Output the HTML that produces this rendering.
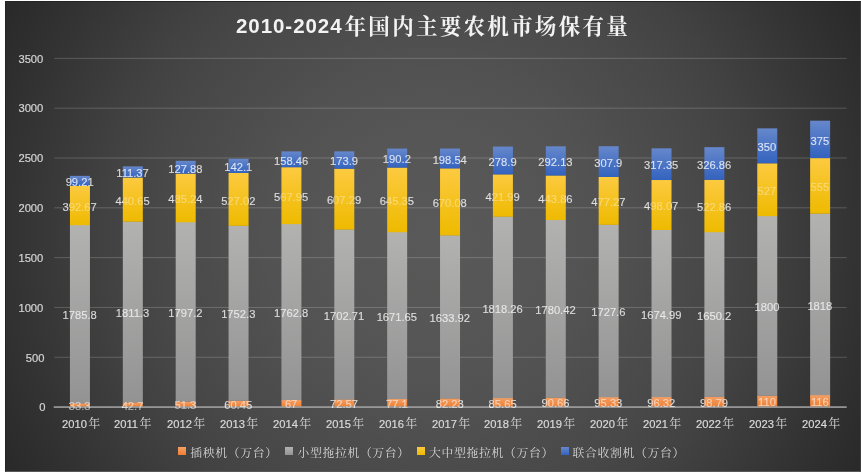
<!DOCTYPE html>
<html lang="zh"><head><meta charset="utf-8"><title>2010-2024年国内主要农机市场保有量</title>
<style>
html,body{margin:0;padding:0;background:#fff;}
body{width:861px;height:472px;overflow:hidden;position:relative;font-family:"Liberation Sans",sans-serif;}
#chart{will-change:transform;position:absolute;left:5px;top:1px;width:856px;height:471px;overflow:hidden;
 background:radial-gradient(circle 480px at 428px 235.5px,#595959 0,#565656 21%,#525252 35%,#4c4c4c 47.5%,#484848 57%,#424242 67.7%,#333 87.3%,#2a2a2a 100%);}
#chart:before{content:"";position:absolute;left:0;top:0;right:0;bottom:0;border-left:1px solid #232323;border-top:1px solid #232323;border-right:1px solid #3e3e3e;border-bottom:1.5px solid #575757;box-sizing:border-box;}
#inner{position:absolute;left:0;top:0;width:856px;height:471px;filter:blur(.6px);}
.abs{position:absolute;}
.k{display:inline-block;font-family:"Liberation Sans","Noto Serif CJK SC",serif;white-space:nowrap;}
.yl,.xl{-webkit-text-stroke:.2px currentColor;}
.dl{-webkit-text-stroke:.12px currentColor;transform:scaleY(.93);}
.yl{transform:scaleY(.93);}
.xl span{display:inline-block;transform:scaleY(.93);transform-origin:50% 72%;}
.xl span.k{transform:none;font-size:12px;margin-left:1.4px;-webkit-text-stroke:0;}
.dl{color:#fff;}.dl.lo{-webkit-mask-image:linear-gradient(90deg,rgba(0,0,0,0.9) 0,rgba(0,0,0,0.9) 20.3px,rgba(0,0,0,0.66) 20.3px,rgba(0,0,0,0.66) 40.3px,rgba(0,0,0,0.9) 40.3px,rgba(0,0,0,0.9) 100%);mask-image:linear-gradient(90deg,rgba(0,0,0,0.9) 0,rgba(0,0,0,0.9) 20.3px,rgba(0,0,0,0.66) 20.3px,rgba(0,0,0,0.66) 40.3px,rgba(0,0,0,0.9) 40.3px,rgba(0,0,0,0.9) 100%);}.dl.ly{-webkit-mask-image:linear-gradient(90deg,rgba(0,0,0,0.9) 0,rgba(0,0,0,0.9) 20.3px,rgba(0,0,0,0.42) 20.3px,rgba(0,0,0,0.42) 40.3px,rgba(0,0,0,0.9) 40.3px,rgba(0,0,0,0.9) 100%);mask-image:linear-gradient(90deg,rgba(0,0,0,0.9) 0,rgba(0,0,0,0.9) 20.3px,rgba(0,0,0,0.42) 20.3px,rgba(0,0,0,0.42) 40.3px,rgba(0,0,0,0.9) 40.3px,rgba(0,0,0,0.9) 100%);}.dl.lg2{-webkit-mask-image:linear-gradient(90deg,rgba(0,0,0,0.9) 0,rgba(0,0,0,0.9) 20.3px,rgba(0,0,0,0.84) 20.3px,rgba(0,0,0,0.84) 40.3px,rgba(0,0,0,0.9) 40.3px,rgba(0,0,0,0.9) 100%);mask-image:linear-gradient(90deg,rgba(0,0,0,0.9) 0,rgba(0,0,0,0.9) 20.3px,rgba(0,0,0,0.84) 20.3px,rgba(0,0,0,0.84) 40.3px,rgba(0,0,0,0.9) 40.3px,rgba(0,0,0,0.9) 100%);}.dl.lb{-webkit-mask-image:linear-gradient(90deg,rgba(0,0,0,0.9) 0,rgba(0,0,0,0.9) 20.3px,rgba(0,0,0,0.9) 20.3px,rgba(0,0,0,0.9) 40.3px,rgba(0,0,0,0.9) 40.3px,rgba(0,0,0,0.9) 100%);mask-image:linear-gradient(90deg,rgba(0,0,0,0.9) 0,rgba(0,0,0,0.9) 20.3px,rgba(0,0,0,0.9) 20.3px,rgba(0,0,0,0.9) 40.3px,rgba(0,0,0,0.9) 40.3px,rgba(0,0,0,0.9) 100%);}
.yl{position:absolute;left:0;width:39.4px;text-align:right;font-size:11.2px;line-height:12px;height:12px;color:#d4d4d4;}
.xl{position:absolute;width:60px;text-align:left;font-size:11.2px;line-height:14px;height:14px;color:#d9d9d9;white-space:nowrap;}
.o{background:linear-gradient(#f3a066,#ee7f33);}
.g{background:linear-gradient(#b2b2b1,#939393);}
.y{background:linear-gradient(#fcca40,#eeba00);}
.b{background:linear-gradient(#6687cb,#3363bf);}
.dl{position:absolute;width:60px;text-align:center;font-size:11.2px;line-height:12px;height:12px;color:rgba(255,255,255,.86);white-space:nowrap;}
#title{position:absolute;left:0;top:0;width:856px;text-align:center;color:#f2f2f2;white-space:nowrap;}
#title b{font-size:20.5px;letter-spacing:.95px;font-weight:bold;position:relative;top:-.8px;}
#title .k{font-size:21.5px;letter-spacing:2.29px;font-weight:bold;margin-left:2px;}
.lg{position:absolute;top:444.2px;height:14px;line-height:14px;color:#d9d9d9;white-space:nowrap;}
.lg .k{font-size:11.8px;letter-spacing:.7px;}
.mk{position:absolute;top:445.9px;width:8.4px;height:8.5px;}

</style></head><body>
<div id="chart"><div id="inner">
<div id="title" style="top:12px;height:28px;line-height:28px;"><b>2010-2024</b><span class="k">年国内主要农机市场保有量</span></div>
<svg class="abs" style="left:0;top:0" width="856" height="471" viewBox="5 1 856 471" aria-hidden="true">
<defs>
<linearGradient id="Go" x1="0" y1="0" x2="0" y2="1"><stop offset="0" stop-color="#f3a066"/><stop offset="1" stop-color="#ee7f33"/></linearGradient>
<linearGradient id="Gg" x1="0" y1="0" x2="0" y2="1"><stop offset="0" stop-color="#b2b2b1"/><stop offset="1" stop-color="#939393"/></linearGradient>
<linearGradient id="Gy" x1="0" y1="0" x2="0" y2="1"><stop offset="0" stop-color="#fcca40"/><stop offset="1" stop-color="#eeba00"/></linearGradient>
<linearGradient id="Gb" x1="0" y1="0" x2="0" y2="1"><stop offset="0" stop-color="#6687cb"/><stop offset="1" stop-color="#3363bf"/></linearGradient>
</defs>
<rect x="54.3" y="356.76" width="792.4" height="1" fill="#fff" fill-opacity=".19"/>
<rect x="54.3" y="306.95" width="792.4" height="1" fill="#fff" fill-opacity=".19"/>
<rect x="54.3" y="257.13" width="792.4" height="1" fill="#fff" fill-opacity=".19"/>
<rect x="54.3" y="207.31" width="792.4" height="1" fill="#fff" fill-opacity=".19"/>
<rect x="54.3" y="157.49" width="792.4" height="1" fill="#fff" fill-opacity=".19"/>
<rect x="54.3" y="107.68" width="792.4" height="1" fill="#fff" fill-opacity=".19"/>
<rect x="54.3" y="57.86" width="792.4" height="1" fill="#fff" fill-opacity=".19"/>
<rect x="69.95" y="403.18" width="20.00" height="3.57" fill="url(#Go)"/>
<rect x="69.95" y="224.95" width="20.00" height="178.47" fill="url(#Gg)"/>
<rect x="69.95" y="185.77" width="20.00" height="39.44" fill="url(#Gy)"/>
<rect x="69.95" y="175.86" width="20.00" height="9.90" fill="url(#Gb)"/>
<rect x="122.82" y="402.24" width="20.00" height="4.51" fill="url(#Go)"/>
<rect x="122.82" y="221.47" width="20.00" height="181.02" fill="url(#Gg)"/>
<rect x="122.82" y="177.49" width="20.00" height="44.23" fill="url(#Gy)"/>
<rect x="122.82" y="166.38" width="20.00" height="11.11" fill="url(#Gb)"/>
<rect x="175.69" y="401.38" width="20.00" height="5.37" fill="url(#Go)"/>
<rect x="175.69" y="222.02" width="20.00" height="179.61" fill="url(#Gg)"/>
<rect x="175.69" y="173.59" width="20.00" height="48.68" fill="url(#Gy)"/>
<rect x="175.69" y="160.83" width="20.00" height="12.76" fill="url(#Gb)"/>
<rect x="228.56" y="400.47" width="20.00" height="6.28" fill="url(#Go)"/>
<rect x="228.56" y="225.59" width="20.00" height="175.13" fill="url(#Gg)"/>
<rect x="228.56" y="172.99" width="20.00" height="52.85" fill="url(#Gy)"/>
<rect x="228.56" y="158.81" width="20.00" height="14.18" fill="url(#Gb)"/>
<rect x="281.43" y="399.81" width="20.00" height="6.94" fill="url(#Go)"/>
<rect x="281.43" y="223.89" width="20.00" height="176.18" fill="url(#Gg)"/>
<rect x="281.43" y="167.20" width="20.00" height="56.93" fill="url(#Gy)"/>
<rect x="281.43" y="151.39" width="20.00" height="15.81" fill="url(#Gb)"/>
<rect x="334.30" y="399.26" width="20.00" height="7.49" fill="url(#Go)"/>
<rect x="334.30" y="229.33" width="20.00" height="170.18" fill="url(#Gg)"/>
<rect x="334.30" y="168.72" width="20.00" height="60.86" fill="url(#Gy)"/>
<rect x="334.30" y="151.36" width="20.00" height="17.36" fill="url(#Gb)"/>
<rect x="387.17" y="398.81" width="20.00" height="7.94" fill="url(#Go)"/>
<rect x="387.17" y="231.97" width="20.00" height="167.08" fill="url(#Gg)"/>
<rect x="387.17" y="167.57" width="20.00" height="64.66" fill="url(#Gy)"/>
<rect x="387.17" y="148.59" width="20.00" height="18.98" fill="url(#Gb)"/>
<rect x="440.04" y="398.29" width="20.00" height="8.46" fill="url(#Go)"/>
<rect x="440.04" y="235.23" width="20.00" height="163.32" fill="url(#Gg)"/>
<rect x="440.04" y="168.35" width="20.00" height="67.12" fill="url(#Gy)"/>
<rect x="440.04" y="148.54" width="20.00" height="19.81" fill="url(#Gb)"/>
<rect x="492.91" y="397.95" width="20.00" height="8.80" fill="url(#Go)"/>
<rect x="492.91" y="216.49" width="20.00" height="181.71" fill="url(#Gg)"/>
<rect x="492.91" y="174.38" width="20.00" height="42.36" fill="url(#Gy)"/>
<rect x="492.91" y="146.54" width="20.00" height="27.83" fill="url(#Gb)"/>
<rect x="545.78" y="397.45" width="20.00" height="9.30" fill="url(#Go)"/>
<rect x="545.78" y="219.77" width="20.00" height="177.94" fill="url(#Gg)"/>
<rect x="545.78" y="175.47" width="20.00" height="44.55" fill="url(#Gy)"/>
<rect x="545.78" y="146.31" width="20.00" height="29.15" fill="url(#Gb)"/>
<rect x="598.65" y="396.99" width="20.00" height="9.76" fill="url(#Go)"/>
<rect x="598.65" y="224.57" width="20.00" height="172.66" fill="url(#Gg)"/>
<rect x="598.65" y="176.94" width="20.00" height="47.88" fill="url(#Gy)"/>
<rect x="598.65" y="146.21" width="20.00" height="30.73" fill="url(#Gb)"/>
<rect x="651.52" y="396.89" width="20.00" height="9.86" fill="url(#Go)"/>
<rect x="651.52" y="229.72" width="20.00" height="167.41" fill="url(#Gg)"/>
<rect x="651.52" y="180.02" width="20.00" height="49.96" fill="url(#Gy)"/>
<rect x="651.52" y="148.34" width="20.00" height="31.67" fill="url(#Gb)"/>
<rect x="704.39" y="396.64" width="20.00" height="10.11" fill="url(#Go)"/>
<rect x="704.39" y="231.95" width="20.00" height="164.94" fill="url(#Gg)"/>
<rect x="704.39" y="179.77" width="20.00" height="52.43" fill="url(#Gy)"/>
<rect x="704.39" y="147.15" width="20.00" height="32.62" fill="url(#Gb)"/>
<rect x="757.26" y="395.52" width="20.00" height="11.23" fill="url(#Go)"/>
<rect x="757.26" y="215.88" width="20.00" height="179.89" fill="url(#Gg)"/>
<rect x="757.26" y="163.29" width="20.00" height="52.84" fill="url(#Gy)"/>
<rect x="757.26" y="128.36" width="20.00" height="34.93" fill="url(#Gb)"/>
<rect x="810.13" y="394.92" width="20.00" height="11.83" fill="url(#Go)"/>
<rect x="810.13" y="213.49" width="20.00" height="181.69" fill="url(#Gg)"/>
<rect x="810.13" y="158.10" width="20.00" height="55.64" fill="url(#Gy)"/>
<rect x="810.13" y="120.67" width="20.00" height="37.42" fill="url(#Gb)"/>
<rect x="53.7" y="406.33" width="793.0" height="1.5" fill="#a6a6a6"/>
</svg>
<div class="yl" style="top:400.38px;left:1px">0</div>
<div class="yl" style="top:350.56px">500</div>
<div class="yl" style="top:300.75px;left:-1.1px">1000</div>
<div class="yl" style="top:250.93px;left:-1.1px">1500</div>
<div class="yl" style="top:201.11px;left:-1.1px">2000</div>
<div class="yl" style="top:151.29px;left:-1.1px">2500</div>
<div class="yl" style="top:101.48px;left:-1.1px">3000</div>
<div class="yl" style="top:51.66px;left:-1.1px">3500</div>
<div class="dl lo" style="left:44.65px;top:399.14px">33.3</div>
<div class="dl lg2" style="left:44.65px;top:308.37px">1785.8</div>
<div class="dl ly" style="left:44.65px;top:199.66px">392.67</div>
<div class="dl lb" style="left:44.65px;top:175.11px">99.21</div>
<div class="dl lo" style="left:97.52px;top:398.67px">42.7</div>
<div class="dl lg2" style="left:97.52px;top:306.15px">1811.3</div>
<div class="dl ly" style="left:97.52px;top:193.78px">440.65</div>
<div class="dl lb" style="left:97.52px;top:166.24px">111.37</div>
<div class="dl lo" style="left:150.39px;top:398.24px">51.3</div>
<div class="dl lg2" style="left:150.39px;top:306.00px">1797.2</div>
<div class="dl ly" style="left:150.39px;top:192.11px">485.24</div>
<div class="dl lb" style="left:150.39px;top:161.51px">127.88</div>
<div class="dl lo" style="left:203.26px;top:397.78px">60.45</div>
<div class="dl lg2" style="left:203.26px;top:307.33px">1752.3</div>
<div class="dl ly" style="left:203.26px;top:193.59px">527.02</div>
<div class="dl lb" style="left:203.26px;top:160.20px">142.1</div>
<div class="dl lo" style="left:256.13px;top:397.46px">67</div>
<div class="dl lg2" style="left:256.13px;top:306.15px">1762.8</div>
<div class="dl ly" style="left:256.13px;top:189.85px">567.95</div>
<div class="dl lb" style="left:256.13px;top:153.60px">158.46</div>
<div class="dl lo" style="left:309.00px;top:397.18px">72.57</div>
<div class="dl lg2" style="left:309.00px;top:308.59px">1702.71</div>
<div class="dl ly" style="left:309.00px;top:193.32px">607.29</div>
<div class="dl lb" style="left:309.00px;top:154.34px">173.9</div>
<div class="dl lo" style="left:361.87px;top:396.95px">77.1</div>
<div class="dl lg2" style="left:361.87px;top:309.69px">1671.65</div>
<div class="dl ly" style="left:361.87px;top:194.07px">645.35</div>
<div class="dl lb" style="left:361.87px;top:152.38px">190.2</div>
<div class="dl lo" style="left:414.74px;top:396.70px">82.23</div>
<div class="dl lg2" style="left:414.74px;top:311.06px">1633.92</div>
<div class="dl ly" style="left:414.74px;top:196.09px">670.08</div>
<div class="dl lb" style="left:414.74px;top:152.75px">198.54</div>
<div class="dl lo" style="left:467.61px;top:396.53px">85.65</div>
<div class="dl lg2" style="left:467.61px;top:301.52px">1818.26</div>
<div class="dl ly" style="left:467.61px;top:189.73px">421.99</div>
<div class="dl lb" style="left:467.61px;top:154.76px">278.9</div>
<div class="dl lo" style="left:520.48px;top:396.28px">90.66</div>
<div class="dl lg2" style="left:520.48px;top:302.91px">1780.42</div>
<div class="dl ly" style="left:520.48px;top:191.92px">443.86</div>
<div class="dl lb" style="left:520.48px;top:155.19px">292.13</div>
<div class="dl lo" style="left:573.35px;top:396.04px">95.33</div>
<div class="dl lg2" style="left:573.35px;top:305.08px">1727.6</div>
<div class="dl ly" style="left:573.35px;top:195.06px">477.27</div>
<div class="dl lb" style="left:573.35px;top:155.88px">307.9</div>
<div class="dl lo" style="left:626.22px;top:395.99px">96.32</div>
<div class="dl lg2" style="left:626.22px;top:307.61px">1674.99</div>
<div class="dl ly" style="left:626.22px;top:199.17px">498.07</div>
<div class="dl lb" style="left:626.22px;top:158.48px">317.35</div>
<div class="dl lo" style="left:679.09px;top:395.87px">98.79</div>
<div class="dl lg2" style="left:679.09px;top:308.60px">1650.2</div>
<div class="dl ly" style="left:679.09px;top:200.16px">522.86</div>
<div class="dl lb" style="left:679.09px;top:157.76px">326.86</div>
<div class="dl lo" style="left:731.96px;top:395.31px">110</div>
<div class="dl lg2" style="left:731.96px;top:300.00px">1800</div>
<div class="dl ly" style="left:731.96px;top:183.88px">527</div>
<div class="dl lb" style="left:731.96px;top:140.12px">350</div>
<div class="dl lo" style="left:784.83px;top:395.01px">116</div>
<div class="dl lg2" style="left:784.83px;top:298.50px">1818</div>
<div class="dl ly" style="left:784.83px;top:180.09px">555</div>
<div class="dl lb" style="left:784.83px;top:133.69px">375</div>
<div class="xl" style="left:57.00px;top:416.00px"><span>2010</span><span class="k">年</span></div>
<div class="xl" style="left:109.00px;top:416.00px"><span>2011</span><span class="k">年</span></div>
<div class="xl" style="left:162.00px;top:416.00px"><span>2012</span><span class="k">年</span></div>
<div class="xl" style="left:215.00px;top:416.00px"><span>2013</span><span class="k">年</span></div>
<div class="xl" style="left:268.00px;top:416.00px"><span>2014</span><span class="k">年</span></div>
<div class="xl" style="left:321.00px;top:416.00px"><span>2015</span><span class="k">年</span></div>
<div class="xl" style="left:374.00px;top:416.00px"><span>2016</span><span class="k">年</span></div>
<div class="xl" style="left:427.00px;top:416.00px"><span>2017</span><span class="k">年</span></div>
<div class="xl" style="left:479.00px;top:416.00px"><span>2018</span><span class="k">年</span></div>
<div class="xl" style="left:532.00px;top:416.00px"><span>2019</span><span class="k">年</span></div>
<div class="xl" style="left:585.00px;top:416.00px"><span>2020</span><span class="k">年</span></div>
<div class="xl" style="left:638.00px;top:416.00px"><span>2021</span><span class="k">年</span></div>
<div class="xl" style="left:691.00px;top:416.00px"><span>2022</span><span class="k">年</span></div>
<div class="xl" style="left:744.00px;top:416.00px"><span>2023</span><span class="k">年</span></div>
<div class="xl" style="left:797.00px;top:416.00px"><span>2024</span><span class="k">年</span></div>
<div class="mk o" style="left:172.5px"></div>
<div class="lg" style="left:185.3px"><span class="k">插秧机（万台）</span></div>
<div class="mk g" style="left:279.5px"></div>
<div class="lg" style="left:292.4px"><span class="k">小型拖拉机（万台）</span></div>
<div class="mk y" style="left:411.8px"></div>
<div class="lg" style="left:424.0px"><span class="k">大中型拖拉机（万台）</span></div>
<div class="mk b" style="left:555.5px"></div>
<div class="lg" style="left:567.6px"><span class="k">联合收割机（万台）</span></div>
</div></div>
</body></html>
